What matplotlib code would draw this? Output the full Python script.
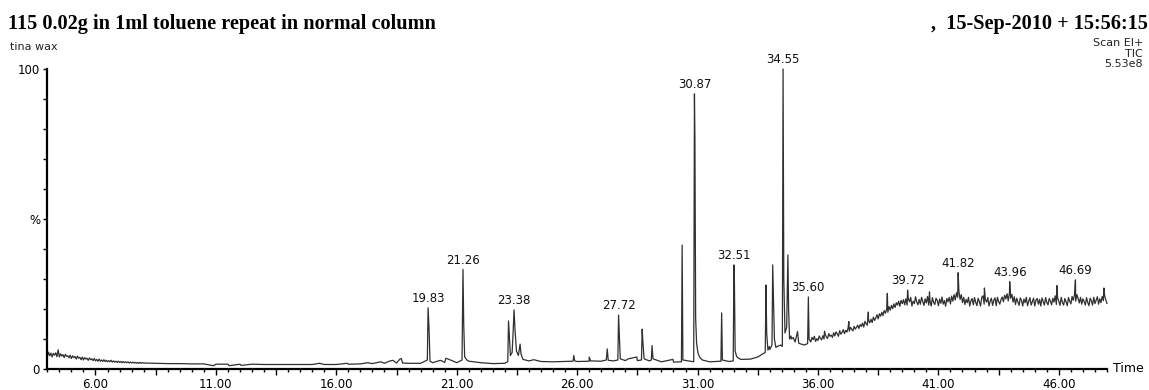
import numpy as np
import matplotlib
matplotlib.use('Agg')
from matplotlib import pyplot as plt
from matplotlib.ticker import FixedLocator

# ---- data (retention time in min, % of 5.53e8) ----
# noisy start of the run
early_rt = [4.00, 4.05, 4.10, 4.15, 4.20, 4.25, 4.30, 4.35, 4.40, 4.45,
            4.50, 4.55, 4.60, 4.65, 4.70, 4.75, 4.80, 4.85, 4.90, 4.95,
            5.00, 5.05, 5.10, 5.15, 5.20, 5.25, 5.30, 5.35, 5.40, 5.45,
            5.50, 5.55, 5.60, 5.65, 5.70, 5.75, 5.80, 5.85, 5.90, 5.95,
            6.00, 6.05, 6.10, 6.15, 6.20, 6.25, 6.30, 6.35, 6.40, 6.45,
            6.50, 6.55, 6.60, 6.65, 6.70, 6.75, 6.80, 6.85, 6.90, 6.95,
            7.00, 7.05, 7.10, 7.15, 7.20, 7.25, 7.30, 7.35, 7.40, 7.45,
            7.50, 7.55, 7.60, 7.65, 7.70, 7.75, 7.80, 7.85, 7.90, 7.95,
            8.00]
early_pct = [4.2, 5.6, 4.4, 5.3, 4.0, 5.2, 4.6, 5.4, 4.1, 6.4,
             4.0, 5.1, 4.3, 4.8, 3.8, 4.9, 4.2, 4.4, 3.7, 4.6,
             3.5, 4.4, 3.8, 4.2, 3.3, 4.3, 3.6, 3.9, 3.1, 4.0,
             3.0, 3.8, 3.3, 3.6, 2.9, 3.7, 3.1, 3.4, 2.8, 3.5,
             2.7, 3.2, 2.6, 3.3, 2.6, 3.0, 2.5, 3.1, 2.5, 2.9,
             2.4, 2.8, 2.4, 2.9, 2.3, 2.7, 2.3, 2.6, 2.2, 2.6,
             2.2, 2.5, 2.1, 2.5, 2.1, 2.4, 2.1, 2.4, 2.0, 2.3,
             2.0, 2.3, 2.0, 2.2, 1.9, 2.2, 1.9, 2.2, 1.9, 2.1,
             2.0]

# flat baseline in the middle of the run
mid_rt = [8.5, 9.0, 9.5, 10.0, 10.5, 11.0, 11.5, 12.0, 12.5, 13.0,
          13.5, 14.0, 14.5, 15.0, 15.5, 16.0, 16.5, 17.0, 17.5, 18.0,
          18.5, 19.0, 19.5, 20.0, 20.5, 21.0, 21.5, 22.0, 22.5, 23.0,
          24.0, 24.5, 25.0, 25.5, 26.0, 26.5, 27.0, 27.5, 28.0, 28.5,
          29.0, 29.5, 30.0, 31.5, 32.3, 32.8, 33.2, 33.5, 33.7, 34.0,
          34.25, 34.4, 34.9, 35.05, 35.3, 35.45]
mid_pct = [1.9, 1.8, 1.8, 1.7, 1.7, 1.6, 1.6, 1.6, 1.6, 1.5,
           1.5, 1.5, 1.5, 1.5, 1.5, 1.5, 1.6, 1.7, 1.8, 1.9,
           2.0, 1.9, 1.9, 2.1, 2.2, 2.1, 2.6, 2.1, 1.8, 1.9,
           2.7, 2.5, 2.4, 2.5, 2.5, 2.6, 2.6, 2.7, 2.8, 2.8,
           2.7, 2.4, 2.3, 2.4, 2.5, 3.2, 3.3, 4.0, 5.0, 6.5,
           7.2, 7.8, 10.0, 9.0, 8.3, 8.0]

# rising, noisy column bleed at the end
late_rt = [35.70, 35.75, 35.80, 35.85, 35.90, 35.95, 36.00, 36.05, 36.10, 36.15,
           36.20, 36.25, 36.30, 36.35, 36.40, 36.45, 36.50, 36.55, 36.60, 36.65,
           36.70, 36.75, 36.80, 36.85, 36.90, 36.95, 37.00, 37.05, 37.10, 37.15,
           37.20, 37.25, 37.30, 37.35, 37.40, 37.45, 37.50, 37.55, 37.60, 37.65,
           37.70, 37.75, 37.80, 37.85, 37.90, 37.95, 38.00, 38.05, 38.10, 38.15,
           38.20, 38.25, 38.30, 38.35, 38.40, 38.45, 38.50, 38.55, 38.60, 38.65,
           38.70, 38.75, 38.80, 38.85, 38.90, 38.95, 39.00, 39.05, 39.10, 39.15,
           39.20, 39.25, 39.30, 39.35, 39.40, 39.45, 39.50, 39.55, 39.60, 39.65,
           39.70, 39.75, 39.80, 39.85, 39.90, 39.95, 40.00, 40.05, 40.10, 40.15,
           40.20, 40.25, 40.30, 40.35, 40.40, 40.45, 40.50, 40.55, 40.60, 40.65,
           40.70, 40.75, 40.80, 40.85, 40.90, 40.95, 41.00, 41.05, 41.10, 41.15,
           41.20, 41.25, 41.30, 41.35, 41.40, 41.45, 41.50, 41.55, 41.60, 41.65,
           41.70, 41.75, 41.80, 41.85, 41.90, 41.95, 42.00, 42.05, 42.10, 42.15,
           42.20, 42.25, 42.30, 42.35, 42.40, 42.45, 42.50, 42.55, 42.60, 42.65,
           42.70, 42.75, 42.80, 42.85, 42.90, 42.95, 43.00, 43.05, 43.10, 43.15,
           43.20, 43.25, 43.30, 43.35, 43.40, 43.45, 43.50, 43.55, 43.60, 43.65,
           43.70, 43.75, 43.80, 43.85, 43.90, 43.95, 44.00, 44.05, 44.10, 44.15,
           44.20, 44.25, 44.30, 44.35, 44.40, 44.45, 44.50, 44.55, 44.60, 44.65,
           44.70, 44.75, 44.80, 44.85, 44.90, 44.95, 45.00, 45.05, 45.10, 45.15,
           45.20, 45.25, 45.30, 45.35, 45.40, 45.45, 45.50, 45.55, 45.60, 45.65,
           45.70, 45.75, 45.80, 45.85, 45.90, 45.95, 46.00, 46.05, 46.10, 46.15,
           46.20, 46.25, 46.30, 46.35, 46.40, 46.45, 46.50, 46.55, 46.60, 46.65,
           46.70, 46.75, 46.80, 46.85, 46.90, 46.95, 47.00, 47.05, 47.10, 47.15,
           47.20, 47.25, 47.30, 47.35, 47.40, 47.45, 47.50, 47.55, 47.60, 47.65,
           47.70, 47.75, 47.80, 47.85, 47.90, 47.95, 48.00]
late_pct = [9.0, 10.5, 9.8, 10.9, 9.2, 10.1, 9.5, 11.0, 10.2, 9.7,
            11.1, 10.0, 11.6, 10.6, 10.2, 11.8, 10.9, 11.3, 10.5, 12.1,
            11.0, 12.4, 11.7, 10.9, 12.8, 11.6, 12.2, 13.1, 11.8, 12.9,
            12.3, 13.7, 12.6, 13.9, 13.2, 12.7, 14.2, 13.3, 13.9, 14.6,
            13.5, 14.8, 14.2, 15.3, 14.0, 15.9, 15.1, 14.6, 16.2, 15.4,
            16.6, 15.5, 17.3, 16.2, 17.0, 18.1, 16.7, 18.4, 17.6, 18.9,
            17.8, 19.5, 18.6, 19.9, 18.9, 20.8, 19.6, 21.2, 20.1, 21.7,
            20.5, 22.1, 21.3, 22.6, 20.9, 22.9, 21.8, 23.1, 21.4, 23.4,
            21.3, 23.5, 22.4, 23.9, 21.0, 22.6, 21.8, 24.1, 22.3, 21.4,
            23.2, 21.6, 23.9, 22.5, 21.2, 23.4, 22.0, 24.2, 21.3, 22.7,
            21.0, 23.8, 22.2, 21.5, 23.6, 22.9, 21.1, 23.3, 21.9, 24.0,
            21.6, 22.8, 20.9, 23.5, 22.4, 23.9, 21.7, 24.3, 22.6, 24.8,
            23.0, 25.4, 23.9, 26.0, 23.2, 24.8, 22.1, 23.9, 21.5, 23.2,
            22.1, 23.9, 21.0, 22.7, 23.5, 21.4, 23.8, 22.2, 21.1, 23.6,
            22.4, 21.0, 23.9, 24.4, 21.6, 23.1, 22.3, 23.8, 21.0, 22.6,
            23.6, 21.2, 22.9, 23.7, 21.1, 23.9, 22.5, 21.6, 23.2, 24.0,
            22.4, 24.6, 23.4, 25.1, 22.7, 25.4, 23.6, 24.9, 22.3, 24.1,
            21.5, 23.6, 22.4, 21.2, 23.7, 22.8, 21.0, 23.3, 22.1, 23.9,
            21.1, 22.6, 23.8, 21.3, 22.4, 23.6, 21.0, 22.9, 23.5, 21.6,
            23.2, 21.0, 23.7, 22.5, 21.3, 23.8, 22.2, 21.4, 23.5, 22.6,
            21.4, 23.6, 22.3, 24.4, 21.5, 23.7, 22.6, 21.2, 23.9, 22.1,
            21.3, 23.5, 22.4, 21.1, 23.8, 22.6, 21.7, 24.2, 22.9, 24.6,
            22.6, 24.8, 23.5, 22.0, 23.9, 21.6, 23.4, 22.5, 21.3, 23.8,
            22.2, 21.1, 23.6, 22.7, 21.3, 23.9, 21.8, 22.9, 24.1, 21.6,
            23.4, 22.1, 24.2, 22.8, 24.6, 23.0, 21.9]

# peak points (apex and flanks)
pk_rt = [10.9, 11.55, 12.05, 15.3, 16.45, 17.3, 17.85, 18.2, 18.35, 18.64, 18.70, 18.75,
         19.78, 19.81, 19.85, 19.89, 20.32, 20.55, 20.8,
         21.22, 21.26, 21.29, 21.33, 21.42,
         23.12, 23.15, 23.18, 23.23, 23.30, 23.34, 23.38, 23.42, 23.48, 23.56, 23.63, 23.67, 23.75,
         24.2, 25.83, 25.86, 25.9, 26.5, 26.56,
         27.21, 27.25, 27.29, 27.69, 27.72, 27.75, 27.79, 28.13, 28.48,
         28.67, 28.70, 28.73, 28.78, 29.08, 29.11, 29.15, 29.98,
         30.33, 30.36, 30.39,
         30.84, 30.87, 30.89, 30.92, 30.96, 31.02, 31.1, 31.2,
         31.97, 32.0, 32.03,
         32.48, 32.51, 32.53, 32.56, 32.62, 32.7,
         33.81, 33.84, 33.87, 33.92, 33.98,
         34.09, 34.12, 34.15, 34.19, 34.3, 34.45, 34.52,
         34.55, 34.58, 34.63, 34.70, 34.75, 34.78, 34.82, 34.88,
         34.97, 35.15, 35.2, 35.57, 35.60, 35.63,
         36.27, 37.28, 38.09, 38.88, 39.72, 40.63, 41.82, 42.91, 43.96, 45.92, 46.69, 47.87]
pk_pct = [1.1, 1.1, 1.2, 1.9, 1.9, 2.1, 2.4, 2.6, 2.9, 3.3, 3.5, 2.0,
          3.0, 20.4, 13.5, 2.6, 2.9, 3.6, 2.8,
          3.0, 33.2, 15.0, 4.0, 3.0,
          2.5, 16.0, 11.5, 4.5, 5.5, 12.0, 19.7, 13.0, 6.0, 4.5, 8.3, 5.0, 3.2,
          3.1, 2.6, 4.5, 2.7, 4.0, 2.7,
          3.0, 6.7, 2.9, 3.0, 18.0, 12.0, 3.4, 3.4, 4.0,
          3.0, 13.3, 9.0, 3.4, 3.0, 7.8, 3.4, 3.2,
          2.4, 41.3, 3.0,
          2.4, 91.7, 77.0, 17.0, 8.5, 5.2, 3.8, 3.0,
          2.6, 18.7, 3.0,
          2.7, 34.7, 29.0, 6.0, 4.2, 3.6,
          5.5, 28.0, 12.0, 6.3, 7.5,
          8.0, 34.7, 24.0, 10.0, 7.5, 8.0, 7.5,
          100.0, 30.0, 12.0, 14.0, 38.0, 20.0, 10.0, 11.0,
          10.5, 12.5, 8.6, 8.5, 24.0, 10.0,
          12.6, 15.8, 19.0, 25.2, 26.3, 25.7, 32.1, 27.0, 29.1, 27.8, 29.7, 27.0]

# labelled peaks
lab_rt = [19.83, 21.26, 23.38, 27.72, 30.87, 32.51, 34.55, 35.60, 39.72, 41.82, 43.96, 46.69]
lab_pct = [20.4, 33.2, 19.7, 18.0, 91.7, 34.7, 100.0, 24.0, 26.3, 32.1, 29.1, 29.7]

# merge everything into one trace ordered by time
rt = np.array(early_rt + mid_rt + late_rt + pk_rt)
tic = np.array(early_pct + mid_pct + late_pct + pk_pct)
order = np.argsort(rt, kind='stable')
rt, tic = rt[order], tic[order]

W, H = 1149, 390
fig = plt.figure(figsize=(W / 100, H / 100), dpi=100)
ax = fig.add_axes([47.3 / W, 21 / H, (1107 - 47.3) / W, 300 / H])

ax.plot(rt, tic, color='#303030', lw=0.9, clip_on=False)

for t, v in zip(lab_rt, lab_pct):
    ax.annotate('%.2f' % t, (t, v), xytext=(0, 2), textcoords='offset points',
                ha='center', va='bottom', fontsize=8.5, color='#111111')

ax.set_xlim(4.0, 48.0)
ax.set_ylim(0, 100)

for s in ['top', 'right']:
    ax.spines[s].set_visible(False)
for s in ['left', 'bottom']:
    ax.spines[s].set_linewidth(1.6)
    ax.spines[s].set_color('black')

major_x = [6 + 2.5 * k for k in range(17)]
ax.xaxis.set_major_locator(FixedLocator(major_x))
ax.xaxis.set_minor_locator(FixedLocator([4 + 0.5 * k for k in range(89)]))
ax.set_xticklabels(['%.2f' % t if k % 2 == 0 else '' for k, t in enumerate(major_x)])
ax.tick_params(axis='x', which='major', direction='out', length=4.5, width=1, pad=2, labelsize=8.5)
ax.tick_params(axis='x', which='minor', direction='out', length=2.2, width=1)

ax.set_yticks(range(0, 101, 10))
ax.set_yticklabels(['0', '', '', '', '', '%', '', '', '', '', '100'])
ax.tick_params(axis='y', direction='out', length=3.2, width=1, pad=2, labelsize=8.5)

fig.text(1113 / W, 1 - 369 / H, 'Time', fontsize=9, va='center', ha='left')

# header
fig.text(8 / W, 1 - 29 / H, '115 0.02g in 1ml toluene repeat in normal column',
         family='Liberation Serif', weight='bold', fontsize=14.6, va='baseline')
fig.text(931 / W, 1 - 29 / H, ',  15-Sep-2010 + 15:56:15',
         family='Liberation Serif', weight='bold', fontsize=14.6, va='baseline')
fig.text(10 / W, 1 - 49.5 / H, 'tina wax', fontsize=8, va='baseline', color='#222222')
fig.text(1143 / W, 1 - 46.5 / H, 'Scan EI+', fontsize=8, va='baseline', ha='right', color='#222222')
fig.text(1143 / W, 1 - 57 / H, 'TIC', fontsize=8, va='baseline', ha='right', color='#222222')
fig.text(1143 / W, 1 - 67 / H, '5.53e8', fontsize=8, va='baseline', ha='right', color='#222222')

fig.savefig('out.png', dpi=100)
